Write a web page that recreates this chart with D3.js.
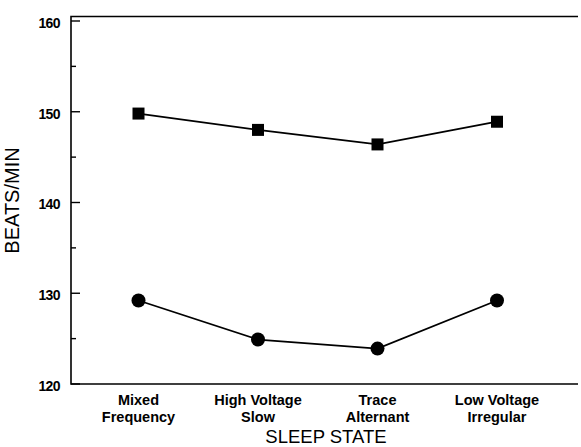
<!DOCTYPE html>
<html>
<head>
<meta charset="utf-8">
<script src="https://cdn.jsdelivr.net/npm/d3@7"></script>
<style>
  body { margin: 0; background: #fff; }
  text { font-family: "Liberation Sans", Arial, sans-serif; fill: #000; }
</style>
</head>
<body>
<div id="chart"></div>
<script>
// data
var categories = ["Mixed|Frequency", "High Voltage|Slow", "Trace|Alternant", "Low Voltage|Irregular"];
var squareValues = [149.8, 148.0, 146.4, 148.9];
var circleValues = [129.2, 124.9, 123.9, 129.2];
var yTicks = [120, 130, 140, 150, 160];
var yMinorTicks = [125, 135, 145, 155];

var width = 581, height = 447;

var svg = d3.select("#chart")
  .append("svg")
    .attr("width", width)
    .attr("height", height);

// scales
var x = d3.scalePoint()
  .domain(categories)
  .range([138.5, 497]);

var y = d3.scaleLinear()
  .domain([120, 160])
  .range([384, 21]);

var plotLeft = 71, plotRight = 578, plotTop = 16.5;

// frame: top, left and bottom lines
svg.append("path")
  .attr("d", "M" + plotRight + "," + plotTop + "H" + plotLeft + "V" + y(120) + "H" + plotRight)
  .attr("fill", "none")
  .attr("stroke", "#000")
  .attr("stroke-width", 1.6);

// y axis ticks pointing inward
var yAxis = svg.append("g");
yAxis.selectAll(".major")
  .data(yTicks)
  .enter().append("line")
    .attr("class", "major")
    .attr("x1", plotLeft).attr("x2", plotLeft + 9)
    .attr("y1", function(d) { return y(d); })
    .attr("y2", function(d) { return y(d); })
    .attr("stroke", "#000").attr("stroke-width", 1.4);
yAxis.selectAll(".minor")
  .data(yMinorTicks)
  .enter().append("line")
    .attr("class", "minor")
    .attr("x1", plotLeft).attr("x2", plotLeft + 5)
    .attr("y1", function(d) { return y(d); })
    .attr("y2", function(d) { return y(d); })
    .attr("stroke", "#000").attr("stroke-width", 1.4);
yAxis.selectAll("text")
  .data(yTicks)
  .enter().append("text")
    .attr("x", 60)
    .attr("y", function(d) { return y(d) + 2; })
    .attr("dy", "0.35em")
    .attr("text-anchor", "end")
    .style("font-size", "14px")
    .style("font-weight", "bold")
    .style("letter-spacing", "-0.6px")
    .text(function(d) { return d; });

// x tick labels (two lines)
var xLabels = svg.append("g").selectAll("text")
  .data(categories)
  .enter().append("text")
    .attr("text-anchor", "middle")
    .attr("transform", function(d) { return "translate(" + x(d) + ",0)"; })
    .style("font-size", "14.5px")
    .style("font-weight", "bold");
xLabels.selectAll("tspan")
  .data(function(d) { return d.split("|"); })
  .enter().append("tspan")
    .attr("x", 0)
    .attr("y", function(d, i) { return 405 + i * 17; })
    .text(function(d) { return d; });

// axis titles
svg.append("text")
  .attr("x", 326)
  .attr("y", 443)
  .attr("text-anchor", "middle")
  .style("font-size", "18.5px")
  .text("SLEEP STATE");

svg.append("text")
  .attr("transform", "translate(18.5,200.5) rotate(-90)")
  .attr("text-anchor", "middle")
  .style("font-size", "20px")
  .text("BEATS/MIN");

// lines
var line = d3.line()
  .x(function(d, i) { return x(categories[i]); })
  .y(function(d) { return y(d); });

svg.append("path")
  .datum(squareValues)
  .attr("d", line)
  .attr("fill", "none")
  .attr("stroke", "#000")
  .attr("stroke-width", 1.8);

svg.append("path")
  .datum(circleValues)
  .attr("d", line)
  .attr("fill", "none")
  .attr("stroke", "#000")
  .attr("stroke-width", 1.8);

// markers
svg.selectAll(".sq")
  .data(squareValues)
  .enter().append("rect")
    .attr("class", "sq")
    .attr("x", function(d, i) { return x(categories[i]) - 6; })
    .attr("y", function(d) { return y(d) - 6; })
    .attr("width", 12)
    .attr("height", 12)
    .attr("fill", "#000");

svg.selectAll(".ci")
  .data(circleValues)
  .enter().append("circle")
    .attr("class", "ci")
    .attr("cx", function(d, i) { return x(categories[i]); })
    .attr("cy", function(d) { return y(d); })
    .attr("r", 7)
    .attr("fill", "#000");
</script>
</body>
</html>
